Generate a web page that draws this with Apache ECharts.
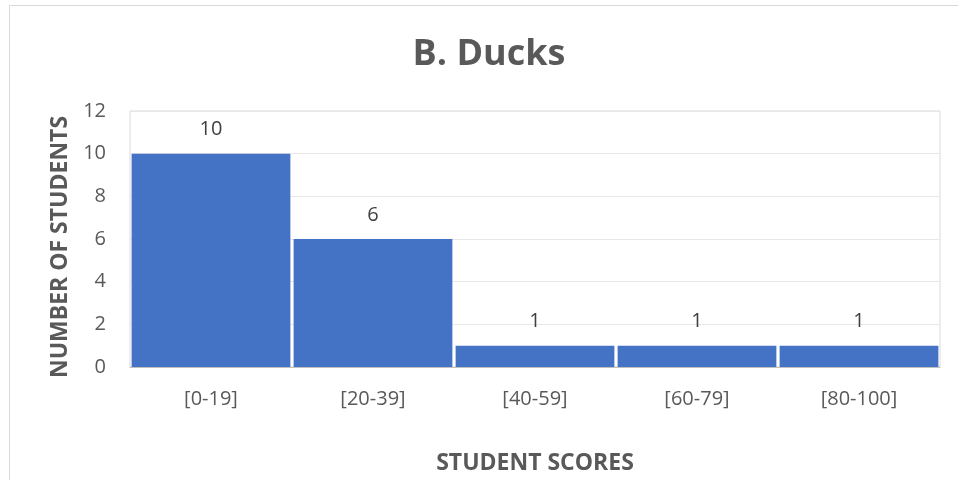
<!DOCTYPE html>
<html>
<head>
<meta charset="utf-8">
<script src="https://cdn.jsdelivr.net/npm/echarts@6/dist/echarts.min.js"></script>
<style>
  html, body { margin: 0; padding: 0; background: #fff; }
  #chart { width: 958px; height: 480px; }
</style>
</head>
<body>
<div id="chart"></div>
<script>
// Score bands and how many students fell in each
const scoreBands = ['[0-19]', '[20-39]', '[40-59]', '[60-79]', '[80-100]'];
const studentCounts = [10, 6, 1, 1, 1];
const yTicks = { min: 0, max: 12, step: 2 };

const FONT = '"Open Sans", "Noto Sans", sans-serif';
const chart = echarts.init(document.getElementById('chart'));

chart.setOption({
  animation: false,
  backgroundColor: '#ffffff',
  title: {
    text: 'B. Ducks',
    left: 484,
    textAlign: 'center',
    top: 32,
    textStyle: { fontFamily: FONT, fontSize: 36, fontWeight: 'bold', color: '#595959' }
  },
  graphic: [{
    type: 'rect',
    shape: { x: 9.5, y: 5.5, width: 980, height: 500 },
    style: { fill: 'none', stroke: '#d9d9d9', lineWidth: 1 },
    silent: true
  }],
  grid: {
    left: 130, right: 18, top: 111, bottom: 113,
    show: true, borderColor: '#d9d9d9', borderWidth: 1
  },
  xAxis: {
    type: 'category',
    data: scoreBands,
    name: 'STUDENT SCORES',
    nameLocation: 'middle',
    nameGap: 85,
    nameTextStyle: { fontFamily: FONT, fontSize: 23, fontWeight: 'bold', color: '#595959' },
    axisLine: { show: true, lineStyle: { color: '#bfbfbf', width: 1 } },
    axisTick: { show: false },
    axisLabel: { fontFamily: FONT, fontSize: 20, color: '#595959', margin: 22 }
  },
  yAxis: {
    type: 'value',
    min: yTicks.min,
    max: yTicks.max,
    interval: yTicks.step,
    name: 'NUMBER OF STUDENTS',
    nameLocation: 'middle',
    nameRotate: 90,
    nameGap: 56,
    nameTextStyle: {
      fontFamily: FONT, fontSize: 23, fontWeight: 'bold', color: '#595959',
      padding: [0, 16, 0, 0]
    },
    axisLine: { show: false },
    axisTick: { show: false },
    axisLabel: { fontFamily: FONT, fontSize: 20, color: '#595959', margin: 24 },
    splitLine: { lineStyle: { color: '#e8e8e8', width: 1 } }
  },
  series: [{
    type: 'bar',
    data: studentCounts,
    barCategoryGap: '2%',
    itemStyle: { color: '#4472C4' },
    label: {
      show: true,
      position: 'top',
      distance: 14,
      fontFamily: FONT,
      fontSize: 20,
      color: '#404040'
    }
  }]
});
</script>
</body>
</html>
